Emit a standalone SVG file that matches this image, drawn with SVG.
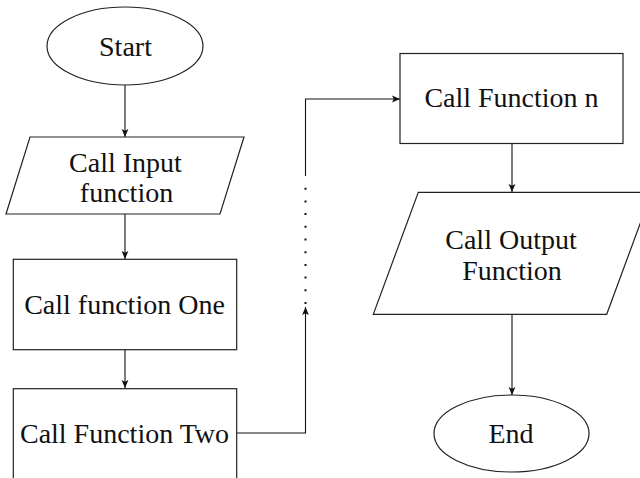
<svg xmlns="http://www.w3.org/2000/svg" width="640" height="478" viewBox="0 0 640 478">
  <style>
    .shape { fill: #ffffff; stroke: #222222; stroke-width: 1.2; }
    .conn { fill: none; stroke: #111111; stroke-width: 1.1; }
    .dots { fill: none; stroke: #111111; stroke-width: 2; stroke-dasharray: 2 10.7; }
    .label { font-family: "Liberation Serif", "Times New Roman", serif; font-size: 28px; fill: #111111; text-anchor: middle; }
  </style>
  <defs>
    <marker id="arrow" markerUnits="userSpaceOnUse" markerWidth="10" markerHeight="10" viewBox="0 0 10 10" refX="9" refY="5" orient="auto">
      <path d="M1,1.6 L9,5 L1,8.4 L2.8,5 z" fill="#111111"/>
    </marker>
  </defs>
  <rect width="640" height="478" fill="#ffffff"/>

  <g id="connectors">
    <line class="conn" x1="125" y1="85" x2="125" y2="137" marker-end="url(#arrow)"/>
    <line class="conn" x1="125" y1="214" x2="125" y2="259" marker-end="url(#arrow)"/>
    <line class="conn" x1="125" y1="350" x2="125" y2="388" marker-end="url(#arrow)"/>
    <polyline class="conn" points="237,433 305.5,433 305.5,307" marker-end="url(#arrow)"/>
    <line class="dots" x1="305.5" y1="187.7" x2="305.5" y2="304"/>
    <polyline class="conn" points="305.5,176 305.5,99 400,99" marker-end="url(#arrow)"/>
    <line class="conn" x1="512" y1="143.5" x2="512" y2="192" marker-end="url(#arrow)"/>
    <line class="conn" x1="512" y1="314.5" x2="512" y2="395" marker-end="url(#arrow)"/>
  </g>

  <g id="start">
    <ellipse class="shape" cx="125" cy="46" rx="78" ry="39"/>
    <text class="label" x="125.5" y="56">Start</text>
  </g>

  <g id="input">
    <polygon class="shape" points="30,137 244,137 220,214 6,214"/>
    <text class="label" x="125.5" y="171.5">Call Input</text>
    <text class="label" x="126.5" y="201.5">function</text>
  </g>

  <g id="func-one">
    <rect class="shape" x="13.3" y="259.3" width="223.4" height="90.4"/>
    <text class="label" x="124.5" y="314">Call function One</text>
  </g>

  <g id="func-two">
    <rect class="shape" x="13.3" y="388.7" width="223.4" height="120"/>
    <text class="label" x="124.5" y="443">Call Function Two</text>
  </g>

  <g id="func-n">
    <rect class="shape" x="400" y="53.5" width="223" height="90"/>
    <text class="label" x="511.5" y="107">Call Function n</text>
  </g>

  <g id="output">
    <polygon class="shape" points="418.3,192.3 651.7,192.3 606.7,314.3 373.3,314.3"/>
    <text class="label" x="511" y="248.5">Call Output</text>
    <text class="label" x="512" y="279.5">Function</text>
  </g>

  <g id="end">
    <ellipse class="shape" cx="511.5" cy="433.5" rx="77.5" ry="38.5"/>
    <text class="label" x="511" y="443">End</text>
  </g>
</svg>
